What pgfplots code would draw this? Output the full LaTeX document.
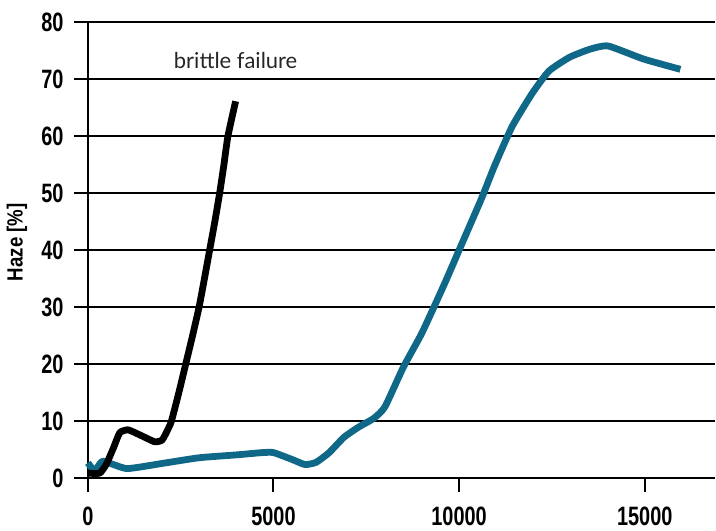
\documentclass[border=0pt]{standalone}
\usepackage{pgfplots}
\pgfplotsset{compat=1.18}
\usepackage{fontspec}
\setmainfont{Liberation Sans}
\newfontfamily\cond{Liberation Sans}[FakeStretch=0.75]
\newfontfamily\labfont{Liberation Sans}[FakeStretch=0.85]
\newfontfamily\thin{Lato}
\definecolor{teal1}{RGB}{15,104,136}

\begin{document}
\begin{tikzpicture}
\begin{axis}[
scale only axis,
width=314pt,
height=228.5pt,
xmin=0, xmax=16890,
ymin=0, ymax=80,
axis lines*=left,
axis line style={line width=1pt, black},
xtick={0,5000,10000,15000},
ytick={0,10,...,80},
scaled x ticks=false,
tick align=outside,
major tick length=7pt,
every tick/.style={black, line width=1pt},
ymajorgrids,
major grid style={black, line width=1.1pt},
/pgf/number format/assume math mode=true,
/pgf/number format/fixed,
/pgf/number format/1000 sep={},
x tick label style={font=\cond\bfseries\fontsize{13.3}{14}\selectfont, inner sep=0pt, yshift=-7pt},
y tick label style={font=\cond\bfseries\fontsize{13.3}{14}\selectfont, inner sep=0pt, xshift=-5pt},
ylabel={Haze [\%]},
ylabel style={font=\labfont\bfseries\fontsize{11}{12}\selectfont, at={(axis description cs:-0.113,0.5175)}, anchor=center},
clip=false,
]
\addplot[teal1, line width=3.4pt, line join=round, smooth, tension=0.3] coordinates {
(0,2.7) (190,1.3) (400,3.0) (1050,1.7) (2000,2.6) (3000,3.6) (4000,4.1)
(4700,4.5) (5000,4.5) (5500,3.3) (5850,2.4) (6150,2.8) (6500,4.5)
(6900,7.2) (7300,9.0) (7700,10.5) (8000,12.5) (8500,19.5) (9000,25.5)
(9600,34) (10000,40) (10600,49) (10950,54.7) (11430,61.7) (11970,67.5)
(12420,71.4) (12970,73.8) (13510,75.2) (14010,75.8) (14970,73.5) (15960,71.7)
};
\addplot[black, line width=3.4pt, line join=round, smooth, tension=0.3] coordinates {
(0,0.9) (320,0.9) (500,2.5) (700,5.5) (860,8.0) (1080,8.5) (1400,7.6)
(1800,6.4) (2000,6.7) (2150,8.5) (2250,10) (2450,15) (2635,20) (2820,25)
(2995,30) (3140,35) (3280,40) (3420,45) (3550,50) (3665,55) (3773,60) (3980,66.1)
};
\node[font=\thin\fontsize{11}{13}\selectfont, color=black!85] at (axis cs:3980,73.2) {brittle failure};
\coordinate (o) at (axis cs:0,0);
\end{axis}
\path ([xshift=-44pt,yshift=-26pt]o) rectangle ([xshift=314pt,yshift=239.5pt]o);
\end{tikzpicture}
\end{document}
